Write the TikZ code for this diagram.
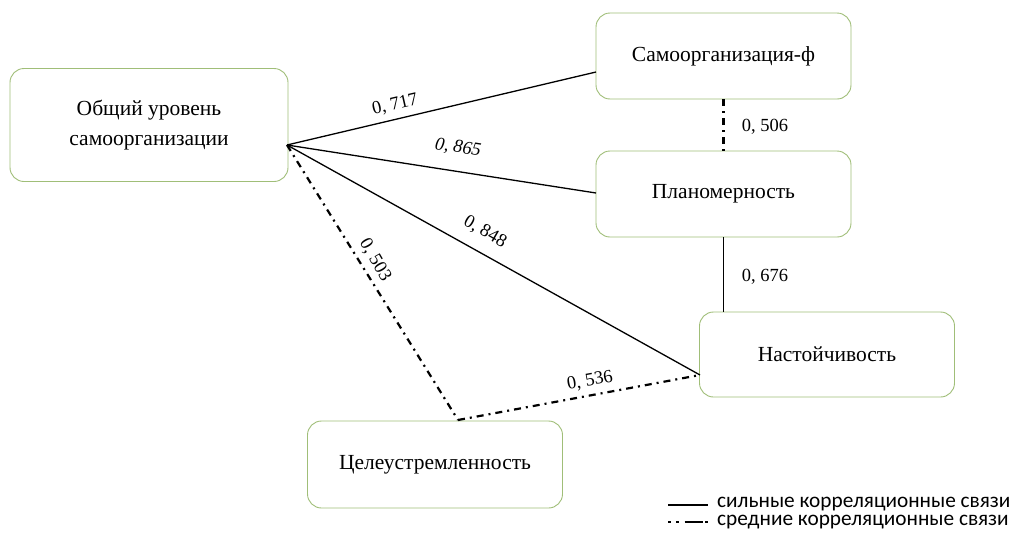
\documentclass[tikz,border=0pt]{standalone}
\usepackage{fontspec}
\setmainfont{Liberation Serif}
\newfontfamily\legfont{Carlito}
\definecolor{boxgreen}{RGB}{160,190,120}
\begin{document}
\begin{tikzpicture}[x=1pt,y=-1pt,
  box/.style={draw=boxgreen, line width=0.9pt, rounded corners=14pt, fill=white,
    minimum width=#1, align=center, font=\fontsize{21.5}{30}\selectfont},
  box/.default=255pt,
  strong/.style={line width=1.3pt},
  medium/.style={line width=2.2pt, dash pattern=on 7pt off 5pt on 2pt off 5pt},
  lbl/.style={font=\fontsize{18.5}{22}\selectfont, inner sep=1pt}]
\useasboundingbox (0,0) rectangle (1019,536);
\node[box=278pt, minimum height=113pt] (b1) at (149,125) {Общий уровень\\самоорганизации};
\node[box, minimum height=86pt] (b2) at (723.5,56) {Самоорганизация-ф};
\node[box, minimum height=86pt] (b3) at (723.5,194) {Планомерность};
\node[box, minimum height=85pt] (b4) at (827,354.5) {Настойчивость};
\node[box, minimum height=87pt] (b5) at (435,464.5) {Целеустремленность};
\coordinate (hub) at (287,145);
\coordinate (e2) at (596,72);
\coordinate (e3) at (596,193);
\coordinate (e4) at (700,375);
\coordinate (e5) at (458,420);
\draw[strong] (hub) -- (e2);
\draw[strong] (hub) -- (e3);
\draw[strong] (hub) -- (e4);
\draw[medium] (hub) -- (e5);
\draw[medium] (e5) -- (e4);
\draw[medium] (b2.south) -- (b3.north);
\draw[strong] (b3.south) -- (b4.north -| b3.south);
\node[lbl, rotate=13] (l1) at (395,105) {0, 717};
\node[lbl, rotate=-9] (l2) at (458,148) {\itshape 0, 865};
\node[lbl, rotate=-30] (l3) at (485,232) {0, 848};
\node[lbl, rotate=-60] (l4) at (375,260) {0, 503};
\node[lbl, rotate=10] (l5) at (590,381) {0, 536};
\node[lbl] (l6) at (765,127) {0, 506};
\node[lbl] (l7) at (765,277) {0, 676};
\coordinate (s1) at (668,505);
\coordinate (s2) at (708,505);
\coordinate (m1) at (668,522);
\coordinate (m2) at (708,522);
\draw[line width=1.3pt] (s1) -- (s2);
\draw[line width=2.2pt, dash pattern=on 2.5pt off 5.5pt on 2.5pt off 6pt on 18pt] (m1) -- (m2);
\node[anchor=west, font=\legfont\fontsize{21.3}{24}\selectfont, inner sep=0pt] (t1) at (717,504) {сильные корреляционные связи};
\node[anchor=west, font=\legfont\fontsize{21.3}{24}\selectfont, inner sep=0pt] (t2) at (717,522) {средние корреляционные связи};
\end{tikzpicture}
\end{document}
